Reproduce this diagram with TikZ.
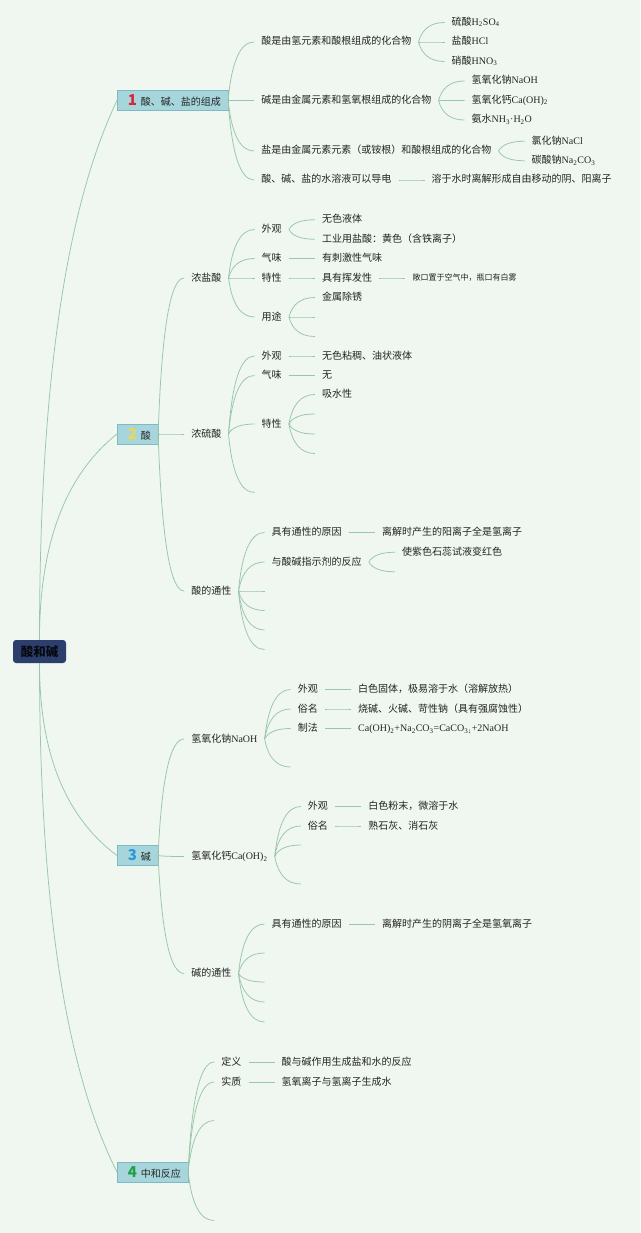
\documentclass[tikz,border=0pt]{standalone}
\usepackage{fontspec}
\setmainfont{Noto Sans CJK SC}
\newfontfamily\chemfont{Liberation Serif}
\usetikzlibrary{positioning,calc}

\definecolor{bgc}{HTML}{EFF7F0}
\definecolor{lnc}{HTML}{98C6A9}
\definecolor{rootc}{HTML}{2C3E6C}
\definecolor{topc}{HTML}{A6D6DC}
\definecolor{topb}{HTML}{7FB9C1}
\definecolor{txtc}{HTML}{242424}
\definecolor{n1c}{HTML}{D9263D}
\definecolor{n2c}{HTML}{F2D54A}
\definecolor{n3c}{HTML}{2A9AD6}
\definecolor{n4c}{HTML}{23A047}

\newcommand\chem[1]{{\chemfont #1}}
\newcommand\sbs[1]{\textsubscript{#1}}
\newcommand\topnum[2]{{\hspace{3.5pt}\fontsize{15}{15}\selectfont\bfseries\color{#1}#2}\hspace{4pt}}

% branch curve, root curve
\newcommand\cv[2]{%
  \path (#1) coordinate (s) (#2) coordinate (e) ($(s |- e)!0.2!(e)$) coordinate (q);
  \draw[ln] (s) .. controls ($(s)!0.667!(q)$) and ($(e)!0.667!(q)$) .. (e);}
\newcommand\rcv[2]{%
  \path (#1) coordinate (s) (#2) coordinate (e) ($(s |- e)!0.3!(s)$) coordinate (q);
  \draw[ln] (s) .. controls ($(s)!0.667!(q)$) and ($(e)!0.667!(q)$) .. (e);}
\newcommand\lk[2]{\cv{[xshift=7pt]#1.east}{[xshift=-7pt]#2.west}}
\newcommand\lkt[2]{\cv{#1.east}{[xshift=-7pt]#2.west}}
\newcommand\lke[2]{\cv{[xshift=7pt]#1.east}{#2}}
\newcommand\lkte[2]{\cv{#1.east}{#2}}

\begin{document}
\begin{tikzpicture}[x=1pt, y=1pt, font=\fontsize{10}{12}\selectfont, text=txtc, node distance=40pt,
  ln/.style={draw=lnc, line width=0.75pt},
  root/.style={fill=rootc, rounded corners=3pt, minimum width=53pt, minimum height=23pt, inner sep=0pt, font=\fontsize{12.5}{14}\selectfont\bfseries, text=black!85!rootc},
  topic/.style={draw=topb, fill=topc, line width=0.5pt, minimum height=20pt, inner xsep=7pt, inner ysep=0pt, anchor=west, text=black!85},
  tx/.style={inner xsep=0pt, inner ysep=1pt, text height=8pt, text depth=2pt},
  sm/.style={tx, font=\fontsize{8}{10}\selectfont, text height=6.5pt, text depth=1.5pt}]
  \fill[bgc] (0,0) rectangle (640,-1233);
  \useasboundingbox (0,0) rectangle (640,-1233);

  \node[root] (root) at (39.5,-651.5) {酸和碱};
  \node[topic] (t1) at (117,-100.5) {\topnum{n1c}{1}酸、碱、盐的组成};
  \node[topic] (t2) at (117,-434) {\topnum{n2c}{2}酸};
  \node[topic] (t3) at (117,-855.5) {\topnum{n3c}{3}碱};
  \node[topic] (t4) at (117,-1172) {\topnum{n4c}{4}中和反应};

  \node[tx, right=33pt of t1, yshift=58.5pt] (a1) {酸是由氢元素和酸根组成的化合物};
  \node[tx, right=33pt of t1] (a2) {碱是由金属元素和氢氧根组成的化合物};
  \node[tx, right=33pt of t1, yshift=-50.5pt] (a3) {盐是由金属元素元素（或铵根）和酸根组成的化合物};
  \node[tx, right=33pt of t1, yshift=-79.5pt] (a4) {酸、碱、盐的水溶液可以导电};
  \node[tx, right=of a1, yshift=19.5pt] (a11) {硫酸\chem{H\sbs{2}SO\sbs{4}}};
  \node[tx, right=of a1] (a12) {盐酸\chem{HCl}};
  \node[tx, right=of a1, yshift=-19.5pt] (a13) {硝酸\chem{HNO\sbs{3}}};
  \node[tx, right=of a2, yshift=19.5pt] (a21) {氢氧化钠\chem{NaOH}};
  \node[tx, right=of a2] (a22) {氢氧化钙\chem{Ca(OH)\sbs{2}}};
  \node[tx, right=of a2, yshift=-19.5pt] (a23) {氨水\chem{NH\sbs{3}·H\sbs{2}O}};
  \node[tx, right=of a3, yshift=9.75pt] (a31) {氯化钠\chem{NaCl}};
  \node[tx, right=of a3, yshift=-9.75pt] (a32) {碳酸钠\chem{Na\sbs{2}CO\sbs{3}}};
  \node[tx, right=of a4] (a41) {溶于水时离解形成自由移动的阴、阳离子};

  \node[tx, right=33pt of t2, yshift=156pt] (b1) {浓盐酸};
  \node[tx, right=33pt of t2] (b2) {浓硫酸};
  \node[tx, right=33pt of t2, yshift=-157pt] (b3) {酸的通性};
  \node[tx, right=of b1, yshift=48.5pt] (b11) {外观};
  \node[tx, right=of b1, yshift=19.5pt] (b12) {气味};
  \node[tx, right=of b1] (b13) {特性};
  \node[tx, right=of b1, yshift=-39pt] (b14) {用途};
  \node[tx, right=of b11, yshift=9.75pt] (b111) {无色液体};
  \node[tx, right=of b11, yshift=-9.75pt] (b112) {工业用盐酸：黄色（含铁离子）};
  \node[tx, right=of b12] (b121) {有刺激性气味};
  \node[tx, right=of b13] (b131) {具有挥发性};
  \node[sm, right=of b131] (b1311) {敞口置于空气中，瓶口有白雾};
  \node[tx, right=of b14, yshift=19.5pt] (b141) {金属除锈};
  \coordinate (b14e1) at ($(b14.east)+(33,0)$);
  \coordinate (b14e2) at ($(b14.east)+(33,-19.5)$);
  \node[tx, right=of b2, yshift=78pt] (b21) {外观};
  \node[tx, right=of b2, yshift=58.5pt] (b22) {气味};
  \node[tx, right=of b2, yshift=10pt] (b23) {特性};
  \coordinate (b2e) at ($(b2.east)+(33,-58.5)$);
  \node[tx, right=of b21] (b211) {无色粘稠、油状液体};
  \node[tx, right=of b22] (b221) {无};
  \node[tx, right=of b23, yshift=29.5pt] (b231) {吸水性};
  \coordinate (b23e1) at ($(b23.east)+(33,10)$);
  \coordinate (b23e2) at ($(b23.east)+(33,-10)$);
  \coordinate (b23e3) at ($(b23.east)+(33,-29.5)$);
  \node[tx, right=of b3, yshift=58.5pt] (b31) {具有通性的原因};
  \node[tx, right=of b3, yshift=29pt] (b32) {与酸碱指示剂的反应};
  \coordinate (b3e1) at ($(b3.east)+(33,0)$);
  \coordinate (b3e2) at ($(b3.east)+(33,-19.5)$);
  \coordinate (b3e3) at ($(b3.east)+(33,-39)$);
  \coordinate (b3e4) at ($(b3.east)+(33,-58.5)$);
  \node[tx, right=of b31] (b311) {离解时产生的阳离子全是氢离子};
  \node[tx, right=of b32, yshift=9.75pt] (b321) {使紫色石蕊试液变红色};
  \coordinate (b32e) at ($(b32.east)+(33,-9.75)$);

  \node[tx, right=33pt of t3, yshift=116.5pt] (c1) {氢氧化钠\chem{NaOH}};
  \node[tx, right=33pt of t3, yshift=-1pt] (c2) {氢氧化钙\chem{Ca(OH)\sbs{2}}};
  \node[tx, right=33pt of t3, yshift=-118pt] (c3) {碱的通性};
  \node[tx, right=of c1, yshift=49.5pt] (c11) {外观};
  \node[tx, right=of c1, yshift=30pt] (c12) {俗名};
  \node[tx, right=of c1, yshift=10.5pt] (c13) {制法};
  \coordinate (c1e) at ($(c1.east)+(33,-28)$);
  \node[tx, right=of c11] (c111) {白色固体，极易溶于水（溶解放热）};
  \node[tx, right=of c12] (c121) {烧碱、火碱、苛性钠（具有强腐蚀性）};
  \node[tx, right=of c13] (c131) {\chem{Ca(OH)\sbs{2}+Na\sbs{2}CO\sbs{3}=CaCO\sbs{3↓}+2NaOH}};
  \node[tx, right=of c2, yshift=50pt] (c21) {外观};
  \node[tx, right=of c2, yshift=30.5pt] (c22) {俗名};
  \coordinate (c2e1) at ($(c2.east)+(33,11.5)$);
  \coordinate (c2e2) at ($(c2.east)+(33,-27.5)$);
  \node[tx, right=of c21] (c211) {白色粉末，微溶于水};
  \node[tx, right=of c22] (c221) {熟石灰、消石灰};
  \node[tx, right=of c3, yshift=49.5pt] (c31) {具有通性的原因};
  \coordinate (c3e1) at ($(c3.east)+(33,20.5)$);
  \coordinate (c3e2) at ($(c3.east)+(33,-8.5)$);
  \coordinate (c3e3) at ($(c3.east)+(33,-28.5)$);
  \coordinate (c3e4) at ($(c3.east)+(33,-48.5)$);
  \node[tx, right=of c31] (c311) {离解时产生的阴离子全是氢氧离子};

  \node[tx, right=33pt of t4, yshift=110pt] (d1) {定义};
  \node[tx, right=33pt of t4, yshift=90pt] (d2) {实质};
  \coordinate (d3) at ($(t4.east)+(26,51.5)$);
  \coordinate (d4) at ($(t4.east)+(26,-48.5)$);
  \node[tx, right=of d1] (d11) {酸与碱作用生成盐和水的反应};
  \node[tx, right=of d2] (d21) {氢氧离子与氢离子生成水};

  \foreach \c in {t1,t2} \rcv{root.north}{\c.west};
  \foreach \c in {t3,t4} \rcv{root.south}{\c.west};
  \foreach \p/\c in {t1/a1,t1/a2,t1/a3,t1/a4,t2/b1,t2/b2,t2/b3,t3/c1,t3/c2,t3/c3,t4/d1,t4/d2} \lkt{\p}{\c};
  \foreach \p/\c in {t4/d3,t4/d4} \lkte{\p}{\c};
  \foreach \p/\c in {a1/a11,a1/a12,a1/a13,a2/a21,a2/a22,a2/a23,a3/a31,a3/a32,a4/a41,
    b1/b11,b1/b12,b1/b13,b1/b14,b11/b111,b11/b112,b12/b121,b13/b131,b131/b1311,b14/b141,
    b2/b21,b2/b22,b2/b23,b21/b211,b22/b221,b23/b231,b3/b31,b3/b32,b31/b311,b32/b321,
    c1/c11,c1/c12,c1/c13,c11/c111,c12/c121,c13/c131,c2/c21,c2/c22,c21/c211,c22/c221,
    c3/c31,c31/c311,d1/d11,d2/d21} \lk{\p}{\c};
  \foreach \p/\c in {b14/b14e1,b14/b14e2,b2/b2e,b23/b23e1,b23/b23e2,b23/b23e3,
    b3/b3e1,b3/b3e2,b3/b3e3,b3/b3e4,b32/b32e,c1/c1e,c2/c2e1,c2/c2e2,
    c3/c3e1,c3/c3e2,c3/c3e3,c3/c3e4} \lke{\p}{\c};
\end{tikzpicture}
\end{document}
